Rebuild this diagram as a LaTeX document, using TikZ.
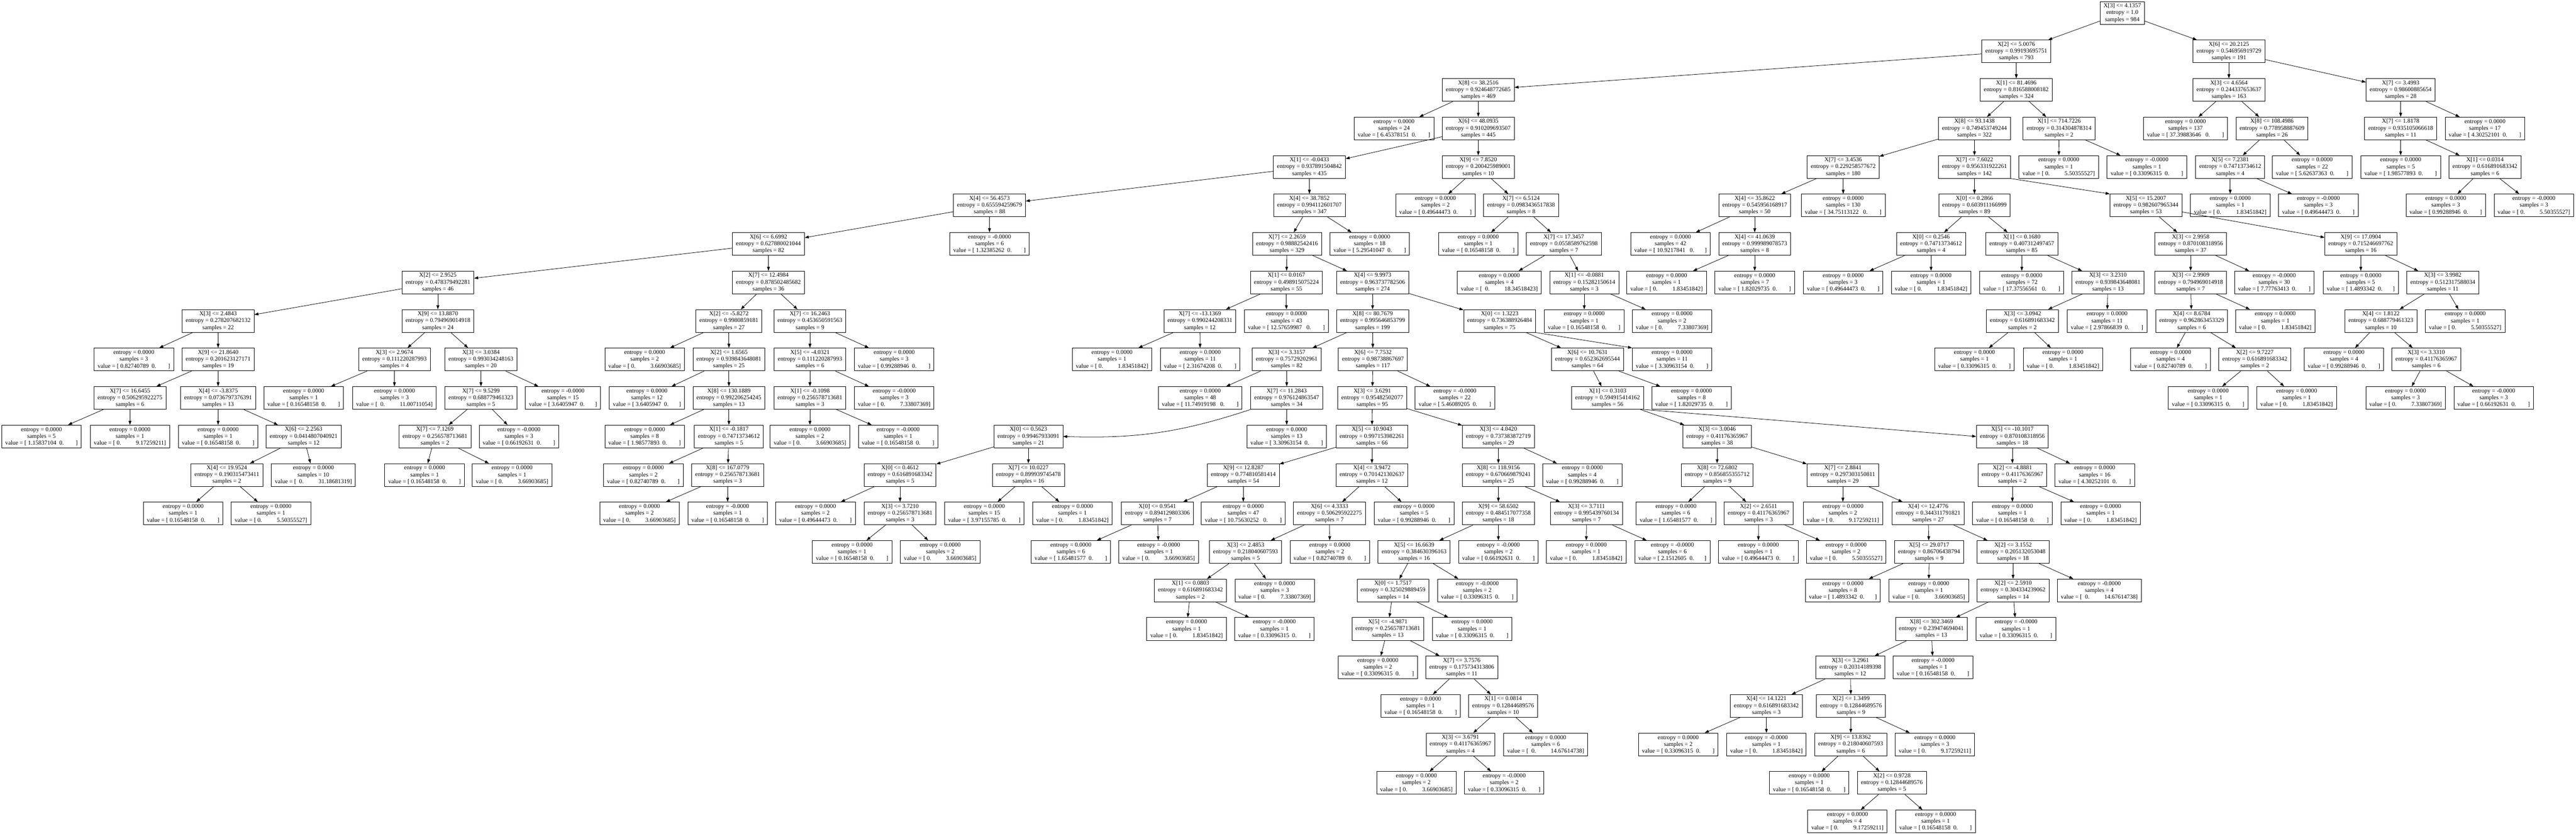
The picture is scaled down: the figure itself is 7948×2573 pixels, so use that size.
\documentclass[tikz,border=0pt]{standalone}
\usepackage{fontspec}
\setmainfont{Liberation Serif}
\usetikzlibrary{arrows.meta}
\newcommand\spc[1]{\hspace*{#1\fontdimen2\font}}
\newcommand\va[1]{\spc{1}#1\spc{2}0.\spc{8}}
\newcommand\vaa[1]{\spc{1}#1\spc{3}0.\spc{8}}
\newcommand\vas[1]{\spc{1}#1\spc{2}0.\spc{7}}
\newcommand\vaas[1]{\spc{1}#1\spc{3}0.\spc{7}}
\newcommand\vb[1]{\spc{1}0.\spc{10}#1}
\newcommand\vbb[1]{\spc{2}0.\spc{10}#1}
\newcommand\DTin[7]{\node[tbox] (#1) at (#2,{40+118.8*#3}) {X[#4] <= #5\\entropy = #6\\samples = #7};}
\newcommand\DTlf[6]{\node[tbox] (#1) at (#2,{40+118.8*#3}) {entropy = #4\\samples = #5\\value = [#6]};}
\tikzset{
  tbox/.style={draw, rectangle, line width=0.7pt, align=center, inner xsep=5.5pt, inner ysep=0pt,
    minimum height=35pt, font={\fontsize{9.2}{10.5}\selectfont}},
  conn/.style={line width=0.63pt, -{Triangle[length=6.3pt,width=4.4pt]}}
}
\begin{document}
\begin{tikzpicture}[x=0.5pt,y=-0.5pt]
\fill[white] (0,0) rectangle (7948,2573);
\useasboundingbox (0,0) rectangle (7948,2573);
% root and right subtree
\DTin{r}{6548}{0}{3}{4.1357}{1.0}{984}
\DTin{a}{6221}{1}{2}{5.0076}{0.99193695751}{793}
\DTin{b}{6877}{1}{6}{20.2125}{0.546956919729}{191}
\DTin{b1}{6877}{2}{3}{4.6564}{0.244337653637}{163}
\DTin{b2}{7407}{2}{7}{3.4993}{0.98600885654}{28}
\DTlf{b11}{6743}{3}{0.0000}{137}{\vaa{37.39883646}}
\DTin{b12}{7010}{3}{8}{108.4986}{0.778958887609}{26}
\DTin{b121}{6881}{4}{5}{7.2381}{0.74713734612}{4}
\DTlf{b122}{7134}{4}{0.0000}{22}{\va{5.62637363}}
\DTlf{b1211}{6881}{5}{0.0000}{1}{\vb{1.83451842}}
\DTlf{b1212}{7153}{5}{-0.0000}{3}{\va{0.49644473}}
\DTin{b21}{7407}{3}{7}{1.8178}{0.935105066618}{11}
\DTlf{b22}{7667}{3}{0.0000}{17}{\va{4.30252101}}
\DTlf{b211}{7407}{4}{0.0000}{5}{\va{1.98577893}}
\DTin{b212}{7667}{4}{1}{0.0314}{0.616891683342}{6}
\DTlf{b2121}{7546}{5}{0.0000}{3}{\va{0.99288946}}
\DTlf{b2122}{7818}{5}{-0.0000}{3}{\vb{5.50355527}}
% d subtree
\DTin{c}{4561}{2}{8}{38.2516}{0.924648772685}{469}
\DTin{d}{6221}{2}{1}{81.4696}{0.816588008182}{324}
\DTin{d1}{6092}{3}{8}{93.1438}{0.749453749244}{322}
\DTin{d2}{6353}{3}{1}{714.7226}{0.314304878314}{2}
\DTlf{d21}{6352}{4}{0.0000}{1}{\vb{5.50355527}}
\DTlf{d22}{6624}{4}{-0.0000}{1}{\va{0.33096315}}
\DTin{d11}{5687}{4}{7}{3.4536}{0.229258577672}{180}
\DTin{d12}{6092}{4}{7}{7.6022}{0.956331922261}{142}
\DTin{d111}{5414}{5}{4}{35.8622}{0.545956168917}{50}
\DTlf{d112}{5687}{5}{0.0000}{130}{\vaa{34.75113122}}
\DTlf{d1111}{5154}{6}{0.0000}{42}{\vaas{10.9217841}}
\DTin{d1112}{5414}{6}{4}{41.0639}{0.999989078573}{8}
\DTlf{d11121}{5142}{7}{0.0000}{1}{\vb{1.83451842}}
\DTlf{d11122}{5414}{7}{0.0000}{7}{\va{1.82029735}}
\DTin{d121}{6092}{5}{0}{0.2866}{0.603911166999}{89}
\DTin{d122}{6621}{5}{5}{15.2007}{0.982607965344}{53}
\DTin{d1211}{5958}{6}{0}{0.2546}{0.74713734612}{4}
\DTin{d1212}{6238}{6}{1}{0.1680}{0.407312497457}{85}
\DTlf{d12111}{5687}{7}{0.0000}{3}{\va{0.49644473}}
\DTlf{d12112}{5958}{7}{0.0000}{1}{\vb{1.83451842}}
\DTlf{d12121}{6238}{7}{0.0000}{72}{\vaa{17.37556561}}
\DTin{d12122}{6504}{7}{3}{3.2310}{0.939843648081}{13}
\DTin{d121221}{6240}{8}{3}{3.0942}{0.616891683342}{2}
\DTlf{d121222}{6501}{8}{0.0000}{11}{\va{2.97866839}}
\DTlf{d1212211}{6092}{9}{0.0000}{1}{\va{0.33096315}}
\DTlf{d1212212}{6365}{9}{0.0000}{1}{\vb{1.83451842}}
\DTin{d1221}{6759}{6}{3}{2.9958}{0.870108318956}{37}
\DTin{d1222}{7284}{6}{9}{17.0904}{0.715246697762}{16}
\DTin{d12211}{6759}{7}{3}{2.9909}{0.794969014918}{7}
\DTlf{d12212}{7017}{7}{-0.0000}{30}{\va{7.77763413}}
\DTin{d122111}{6762}{8}{4}{8.6784}{0.962863453329}{6}
\DTlf{d122112}{7020}{8}{0.0000}{1}{\vb{1.83451842}}
\DTlf{d1221111}{6697}{9}{0.0000}{4}{\va{0.82740789}}
\DTin{d1221112}{6957}{9}{2}{9.7227}{0.616891683342}{2}
\DTlf{d12211121}{6813}{10}{0.0000}{1}{\va{0.33096315}}
\DTlf{d12211122}{7086}{10}{0.0000}{1}{\vb{1.83451842}}
\DTlf{d12221}{7284}{7}{0.0000}{5}{\vas{1.4893342}}
\DTin{d12222}{7537}{7}{3}{3.9982}{0.512317588034}{11}
\DTin{d122221}{7346}{8}{4}{1.8122}{0.688779461323}{10}
\DTlf{d122222}{7606}{8}{0.0000}{1}{\vb{5.50355527}}
\DTlf{d1222211}{7232}{9}{0.0000}{4}{\va{0.99288946}}
\DTin{d1222212}{7486}{9}{3}{3.3310}{0.41176365967}{6}
\DTlf{d12222121}{7422}{10}{0.0000}{3}{\vb{7.33807369}}
\DTlf{d12222122}{7694}{10}{-0.0000}{3}{\va{0.66192631}}
% c subtree
\DTlf{c1}{4301}{3}{0.0000}{24}{\va{6.45378151}}
\DTin{c2}{4561}{3}{6}{48.0935}{0.910209693507}{445}
\DTin{c21}{4040}{4}{1}{-0.0433}{0.937891504842}{435}
\DTin{c22}{4561}{4}{9}{7.8520}{0.200425989001}{10}
\DTlf{c221}{4429}{5}{0.0000}{2}{\va{0.49644473}}
\DTin{c222}{4693}{5}{7}{6.5124}{0.0983436517838}{8}
\DTlf{c2221}{4561}{6}{0.0000}{1}{\va{0.16548158}}
\DTin{c2222}{4825}{6}{7}{17.3457}{0.0558589762598}{7}
\DTlf{c22221}{4626}{7}{0.0000}{4}{\vbb{18.34518423}}
\DTin{c22222}{4888}{7}{1}{-0.0881}{0.15282150614}{3}
\DTlf{c222221}{4888}{8}{0.0000}{1}{\va{0.16548158}}
\DTlf{c222222}{5159}{8}{0.0000}{2}{\vb{7.33807369}}
% e subtree
\DTin{e}{3053}{5}{4}{56.4573}{0.655594259679}{88}
\DTin{f}{4040}{5}{4}{38.7852}{0.994112601707}{347}
\DTin{e1}{2371}{6}{6}{6.6992}{0.627880021044}{82}
\DTlf{e2}{3053}{6}{-0.0000}{6}{\va{1.32385262}}
\DTin{e11}{1351}{7}{2}{2.9525}{0.478379492281}{46}
\DTin{e12}{2371}{7}{7}{12.4984}{0.878502485682}{36}
\DTin{e111}{673}{8}{3}{2.4843}{0.278207682132}{22}
\DTin{e112}{1351}{8}{9}{13.8870}{0.794969014918}{24}
\DTlf{e1111}{413}{9}{0.0000}{3}{\va{0.82740789}}
\DTin{e1112}{673}{9}{9}{21.8640}{0.201623127171}{19}
\DTin{e11121}{401}{10}{7}{16.6455}{0.506295922275}{6}
\DTin{e11122}{673}{10}{4}{-3.8375}{0.0736797376391}{13}
\DTlf{e111211}{128}{11}{0.0000}{5}{\va{1.15837104}}
\DTlf{e111212}{401}{11}{0.0000}{1}{\vb{9.17259211}}
\DTlf{e111221}{673}{11}{0.0000}{1}{\va{0.16548158}}
\DTin{e111222}{937}{11}{6}{2.2563}{0.0414807040921}{12}
\DTin{e1112221}{700}{12}{4}{19.9524}{0.190315473411}{2}
\DTlf{e1112222}{967}{12}{0.0000}{10}{\vbb{31.18681319}}
\DTlf{e11122211}{565}{13}{0.0000}{1}{\va{0.16548158}}
\DTlf{e11122212}{836}{13}{0.0000}{1}{\vb{5.50355527}}
\DTin{e1121}{1217}{9}{3}{2.9674}{0.111220287993}{4}
\DTin{e1122}{1484}{9}{3}{3.0384}{0.993034248163}{20}
\DTlf{e11211}{937}{10}{0.0000}{1}{\va{0.16548158}}
\DTlf{e11212}{1217}{10}{0.0000}{3}{\vbb{11.00711054}}
\DTin{e11221}{1484}{10}{7}{9.5299}{0.688779461323}{5}
\DTlf{e11222}{1737}{10}{-0.0000}{15}{\vas{3.6405947}}
\DTin{e112211}{1342}{11}{7}{7.1269}{0.256578713681}{2}
\DTlf{e112212}{1601}{11}{-0.0000}{3}{\va{0.66192631}}
\DTlf{e1122111}{1310}{12}{0.0000}{1}{\va{0.16548158}}
\DTlf{e1122112}{1580}{12}{0.0000}{1}{\vb{3.66903685}}
\DTin{e121}{2249}{8}{2}{-5.8272}{0.9980859181}{27}
\DTin{e122}{2499}{8}{7}{16.2463}{0.453650591563}{9}
\DTlf{e1211}{1989}{9}{0.0000}{2}{\vb{3.66903685}}
\DTin{e1212}{2249}{9}{2}{1.6565}{0.939843648081}{25}
\DTlf{e12121}{1996}{10}{0.0000}{12}{\vas{3.6405947}}
\DTin{e12122}{2249}{10}{8}{130.1889}{0.992206254245}{13}
\DTlf{e121221}{1989}{11}{0.0000}{8}{\va{1.98577893}}
\DTin{e121222}{2249}{11}{1}{-0.1817}{0.74713734612}{5}
\DTlf{e1212221}{1985}{12}{0.0000}{2}{\va{0.82740789}}
\DTin{e1212222}{2245}{12}{8}{167.0779}{0.256578713681}{3}
\DTlf{e12122221}{1973}{13}{0.0000}{2}{\vb{3.66903685}}
\DTlf{e12122222}{2245}{13}{-0.0000}{1}{\va{0.16548158}}
\DTin{e1221}{2499}{9}{5}{-4.0321}{0.111220287993}{6}
\DTlf{e1222}{2759}{9}{0.0000}{3}{\va{0.99288946}}
\DTin{e12211}{2499}{10}{1}{-0.1098}{0.256578713681}{3}
\DTlf{e12212}{2759}{10}{-0.0000}{3}{\vb{7.33807369}}
\DTlf{e122111}{2499}{11}{0.0000}{2}{\vb{3.66903685}}
\DTlf{e122112}{2771}{11}{-0.0000}{1}{\va{0.16548158}}
% f subtree
\DTin{f1}{3971}{6}{7}{2.2659}{0.98882542416}{329}
\DTlf{f2}{4226}{6}{0.0000}{18}{\va{5.29541047}}
\DTin{f11}{3969}{7}{1}{0.0167}{0.498915075224}{55}
\DTin{f12}{4235}{7}{4}{9.9973}{0.963737782506}{274}
\DTin{f111}{3702}{8}{7}{-13.1369}{0.990244208331}{12}
\DTlf{f112}{3969}{8}{0.0000}{43}{\vaa{12.57659987}}
\DTlf{f1111}{3431}{9}{0.0000}{1}{\vb{1.83451842}}
\DTlf{f1112}{3703}{9}{0.0000}{11}{\va{2.31674208}}
\DTin{f121}{4235}{8}{8}{80.7679}{0.995646853799}{199}
\DTin{f122}{4627}{8}{0}{1.3223}{0.736388926484}{75}
\DTin{f1211}{3970}{9}{3}{3.3157}{0.75729202961}{82}
\DTin{f1212}{4236}{9}{6}{7.7532}{0.98738867697}{117}
\DTlf{f12111}{3703}{10}{0.0000}{48}{\vaa{11.74919198}}
\DTin{f12112}{3970}{10}{7}{11.2843}{0.976124863547}{34}
\DTin{f121121}{3173}{11}{0}{0.5623}{0.99467933091}{21}
\DTlf{f121122}{3970}{11}{0.0000}{13}{\va{3.30963154}}
\DTin{f1211211}{2777}{12}{0}{0.4612}{0.616891683342}{5}
\DTin{f1211212}{3173}{12}{7}{10.0227}{0.899939745478}{16}
\DTlf{g1}{2516}{13}{0.0000}{2}{\va{0.49644473}}
\DTin{g2}{2777}{13}{3}{3.7210}{0.256578713681}{3}
\DTlf{g21}{2629}{14}{0.0000}{1}{\va{0.16548158}}
\DTlf{g22}{2901}{14}{0.0000}{2}{\vb{3.66903685}}
\DTlf{g3}{3037}{13}{0.0000}{15}{\va{3.97155785}}
\DTlf{g4}{3309}{13}{0.0000}{1}{\vb{1.83451842}}
\DTin{h1}{4234}{10}{3}{3.6291}{0.95482502077}{95}
\DTlf{h2}{4489}{10}{-0.0000}{22}{\va{5.46089205}}
\DTin{h11}{4233}{11}{5}{10.9043}{0.997153982261}{66}
\DTin{h12}{4623}{11}{3}{4.0420}{0.737383872719}{29}
\DTin{h111}{3836}{12}{9}{12.8287}{0.774810581414}{54}
\DTin{h112}{4233}{12}{4}{3.9472}{0.701421302637}{12}
\DTin{h1111}{3571}{13}{0}{0.9541}{0.894129803306}{7}
\DTlf{h1112}{3836}{13}{0.0000}{47}{\vaa{10.75630252}}
\DTlf{h11111}{3304}{14}{0.0000}{6}{\va{1.65481577}}
\DTlf{h11112}{3575}{14}{-0.0000}{1}{\vb{3.66903685}}
\DTin{h1121}{4102}{13}{6}{4.3333}{0.506295922275}{7}
\DTlf{h1122}{4363}{13}{0.0000}{5}{\va{0.99288946}}
\DTin{h11211}{3843}{14}{3}{2.4853}{0.218040607593}{5}
\DTlf{h11212}{4103}{14}{0.0000}{2}{\va{0.82740789}}
\DTin{h112111}{3673}{15}{1}{0.0803}{0.616891683342}{2}
\DTlf{h112112}{3933}{15}{0.0000}{3}{\vb{7.33807369}}
\DTlf{h1121111}{3661}{16}{0.0000}{1}{\vb{1.83451842}}
\DTlf{h1121112}{3932}{16}{-0.0000}{1}{\va{0.33096315}}
\DTin{h121}{4623}{12}{8}{118.9156}{0.670669879241}{25}
\DTlf{h122}{4882}{12}{0.0000}{4}{\va{0.99288946}}
\DTin{h1211}{4623}{13}{9}{58.6502}{0.484517077358}{18}
\DTin{h1212}{4895}{13}{3}{3.7111}{0.995439760134}{7}
\DTin{h12111}{4363}{14}{5}{16.6639}{0.384630396163}{16}
\DTlf{h12112}{4623}{14}{-0.0000}{2}{\va{0.66192631}}
\DTlf{h12121}{4894}{14}{0.0000}{1}{\vb{1.83451842}}
\DTlf{h12122}{5160}{14}{-0.0000}{6}{\vas{2.1512605}}
\DTin{h121111}{4298}{15}{0}{1.7517}{0.325029889459}{14}
\DTlf{h121112}{4558}{15}{-0.0000}{2}{\va{0.33096315}}
\DTin{h1211111}{4282}{16}{5}{-4.9871}{0.256578713681}{13}
\DTlf{h1211112}{4542}{16}{0.0000}{1}{\va{0.33096315}}
\DTlf{h12111111}{4251}{17}{0.0000}{2}{\va{0.33096315}}
\DTin{h12111112}{4510}{17}{7}{3.7576}{0.175734313806}{11}
\DTlf{h121111121}{4383}{18}{0.0000}{1}{\va{0.16548158}}
\DTin{h121111122}{4638}{18}{1}{0.0814}{0.12844689576}{10}
\DTin{i1}{4506}{19}{3}{3.6791}{0.41176365967}{4}
\DTlf{i2}{4769}{19}{0.0000}{6}{\vbb{14.67614738}}
\DTlf{i11}{4370}{20}{0.0000}{2}{\vb{3.66903685}}
\DTlf{i12}{4641}{20}{-0.0000}{2}{\va{0.33096315}}
% j subtree
\DTin{j1}{4898}{9}{6}{10.7631}{0.652362695544}{64}
\DTlf{j2}{5159}{9}{0.0000}{11}{\va{3.30963154}}
\DTin{j11}{4960}{10}{1}{0.3103}{0.594915414162}{56}
\DTlf{j12}{5219}{10}{0.0000}{8}{\va{1.82029735}}
\DTin{j111}{5298}{11}{3}{3.0046}{0.41176365967}{38}
\DTin{j112}{6209}{11}{5}{-10.1017}{0.870108318956}{18}
\DTin{j1111}{5298}{12}{8}{72.6802}{0.856855355712}{9}
\DTin{j1112}{5686}{12}{7}{2.8841}{0.297303150811}{29}
\DTlf{j11111}{5171}{13}{0.0000}{6}{\va{1.65481577}}
\DTin{j11112}{5426}{13}{2}{2.6511}{0.41176365967}{3}
\DTlf{j111121}{5425}{14}{0.0000}{1}{\va{0.49644473}}
\DTlf{j111122}{5696}{14}{0.0000}{2}{\vb{5.50355527}}
\DTlf{j11121}{5686}{13}{0.0000}{2}{\vb{9.17259211}}
\DTin{j11122}{5949}{13}{4}{12.4776}{0.344311791821}{27}
\DTin{j111221}{5952}{14}{5}{29.0717}{0.86706438794}{9}
\DTin{j111222}{6211}{14}{2}{3.1552}{0.205132053048}{18}
\DTlf{j1112211}{5686}{15}{0.0000}{8}{\vas{1.4893342}}
\DTlf{j1112212}{5951}{15}{0.0000}{1}{\vb{3.66903685}}
\DTin{j1112221}{6211}{15}{2}{2.5910}{0.304334239062}{14}
\DTlf{j1112222}{6477}{15}{-0.0000}{4}{\vbb{14.67614738}}
\DTin{k1}{5959}{16}{8}{302.3469}{0.239474694041}{13}
\DTlf{k2}{6220}{16}{-0.0000}{1}{\va{0.33096315}}
\DTin{k11}{5709}{17}{3}{3.2961}{0.20314189398}{12}
\DTlf{k12}{5964}{17}{-0.0000}{1}{\va{0.16548158}}
\DTin{k111}{5450}{18}{4}{14.1221}{0.616891683342}{3}
\DTin{k112}{5711}{18}{2}{1.3499}{0.12844689576}{9}
\DTlf{k1111}{5178}{19}{0.0000}{2}{\va{0.33096315}}
\DTlf{k1112}{5450}{19}{-0.0000}{1}{\vb{1.83451842}}
\DTin{k1121}{5710}{19}{9}{13.8362}{0.218040607593}{6}
\DTlf{k1122}{5970}{19}{0.0000}{3}{\vb{9.17259211}}
\DTlf{k11211}{5582}{20}{0.0000}{1}{\va{0.16548158}}
\DTin{k11212}{5837}{20}{2}{0.9728}{0.12844689576}{5}
\DTlf{k112121}{5700}{21}{0.0000}{4}{\vb{9.17259211}}
\DTlf{k112122}{5972}{21}{0.0000}{1}{\va{0.16548158}}
\DTin{j1121}{6209}{12}{2}{-4.8881}{0.41176365967}{2}
\DTlf{j1122}{6463}{12}{0.0000}{16}{\va{4.30252101}}
\DTlf{j11211}{6209}{13}{0.0000}{1}{\va{0.16548158}}
\DTlf{j11212}{6481}{13}{0.0000}{1}{\vb{1.83451842}}
% connectors
\foreach \p/\q in {r/a, r/b, b/b1, b/b2, b1/b11, b1/b12, b12/b121, b12/b122, b121/b1211, b121/b1212,
  b2/b21, b2/b22, b21/b211, b21/b212, b212/b2121, b212/b2122,
  a/c, a/d, d/d1, d/d2, d2/d21, d2/d22, d1/d11, d1/d12, d11/d111, d11/d112, d111/d1111, d111/d1112,
  d1112/d11121, d1112/d11122, d12/d121, d121/d1211, d121/d1212, d1211/d12111, d1211/d12112,
  d1212/d12121, d1212/d12122, d12122/d121221, d12122/d121222, d121221/d1212211, d121221/d1212212,
  d122/d1221, d122/d1222, d1221/d12211, d1221/d12212, d12211/d122111, d12211/d122112,
  d122111/d1221111, d122111/d1221112, d1221112/d12211121, d1221112/d12211122,
  d1222/d12221, d1222/d12222, d12222/d122221, d12222/d122222, d122221/d1222211, d122221/d1222212,
  d1222212/d12222121, d1222212/d12222122,
  c/c1, c/c2, c2/c21, c2/c22, c22/c221, c22/c222, c222/c2221, c222/c2222, c2222/c22221, c2222/c22222,
  c22222/c222221, c22222/c222222,
  c21/e, c21/f, e/e1, e/e2, e1/e11, e1/e12, e11/e111, e11/e112, e111/e1111, e111/e1112,
  e1112/e11121, e1112/e11122, e11121/e111211, e11121/e111212, e11122/e111221, e11122/e111222,
  e111222/e1112221, e111222/e1112222, e1112221/e11122211, e1112221/e11122212,
  e112/e1121, e112/e1122, e1121/e11211, e1121/e11212, e1122/e11221, e1122/e11222,
  e11221/e112211, e11221/e112212, e112211/e1122111, e112211/e1122112,
  e12/e121, e12/e122, e121/e1211, e121/e1212, e1212/e12121, e1212/e12122, e12122/e121221, e12122/e121222,
  e121222/e1212221, e121222/e1212222, e1212222/e12122221, e1212222/e12122222,
  e122/e1221, e122/e1222, e1221/e12211, e1221/e12212, e12211/e122111, e12211/e122112,
  f/f1, f/f2, f1/f11, f1/f12, f11/f111, f11/f112, f111/f1111, f111/f1112, f12/f121, f12/f122,
  f121/f1211, f121/f1212, f1211/f12111, f1211/f12112, f12112/f121122,
  f121121/f1211211, f121121/f1211212, f1211211/g1, f1211211/g2, g2/g21, g2/g22, f1211212/g3, f1211212/g4,
  f1212/h1, f1212/h2, h1/h11, h1/h12, h11/h111, h11/h112, h111/h1111, h111/h1112, h1111/h11111, h1111/h11112,
  h112/h1121, h112/h1122, h1121/h11211, h1121/h11212, h11211/h112111, h11211/h112112,
  h112111/h1121111, h112111/h1121112, h12/h121, h12/h122, h121/h1211, h121/h1212, h1211/h12111, h1211/h12112,
  h1212/h12121, h1212/h12122, h12111/h121111, h12111/h121112, h121111/h1211111, h121111/h1211112,
  h1211111/h12111111, h1211111/h12111112, h12111112/h121111121, h12111112/h121111122,
  h121111122/i1, h121111122/i2, i1/i11, i1/i12,
  f122/j1, j1/j11, j1/j12, j11/j111, j111/j1111, j111/j1112, j1111/j11111, j1111/j11112,
  j11112/j111121, j11112/j111122, j1112/j11121, j1112/j11122, j11122/j111221, j11122/j111222,
  j111221/j1112211, j111221/j1112212, j111222/j1112221, j111222/j1112222, j1112221/k1, j1112221/k2,
  k1/k11, k1/k12, k11/k111, k11/k112, k111/k1111, k111/k1112, k112/k1121, k112/k1122,
  k1121/k11211, k1121/k11212, k11212/k112121, k11212/k112122,
  j112/j1121, j112/j1122, j1121/j11211, j1121/j11212}
  \draw[conn] (\p) -- (\q);
\draw[conn] (d12.south east) -- (d122.north west);
\draw[conn] (f12112.south west) to[bend left=10] (f121121.east);
\draw[conn] (f122.south east) -- (j2.north west);
\draw[conn] (j11.south east) -- (j112.west);
\end{tikzpicture}
\end{document}
